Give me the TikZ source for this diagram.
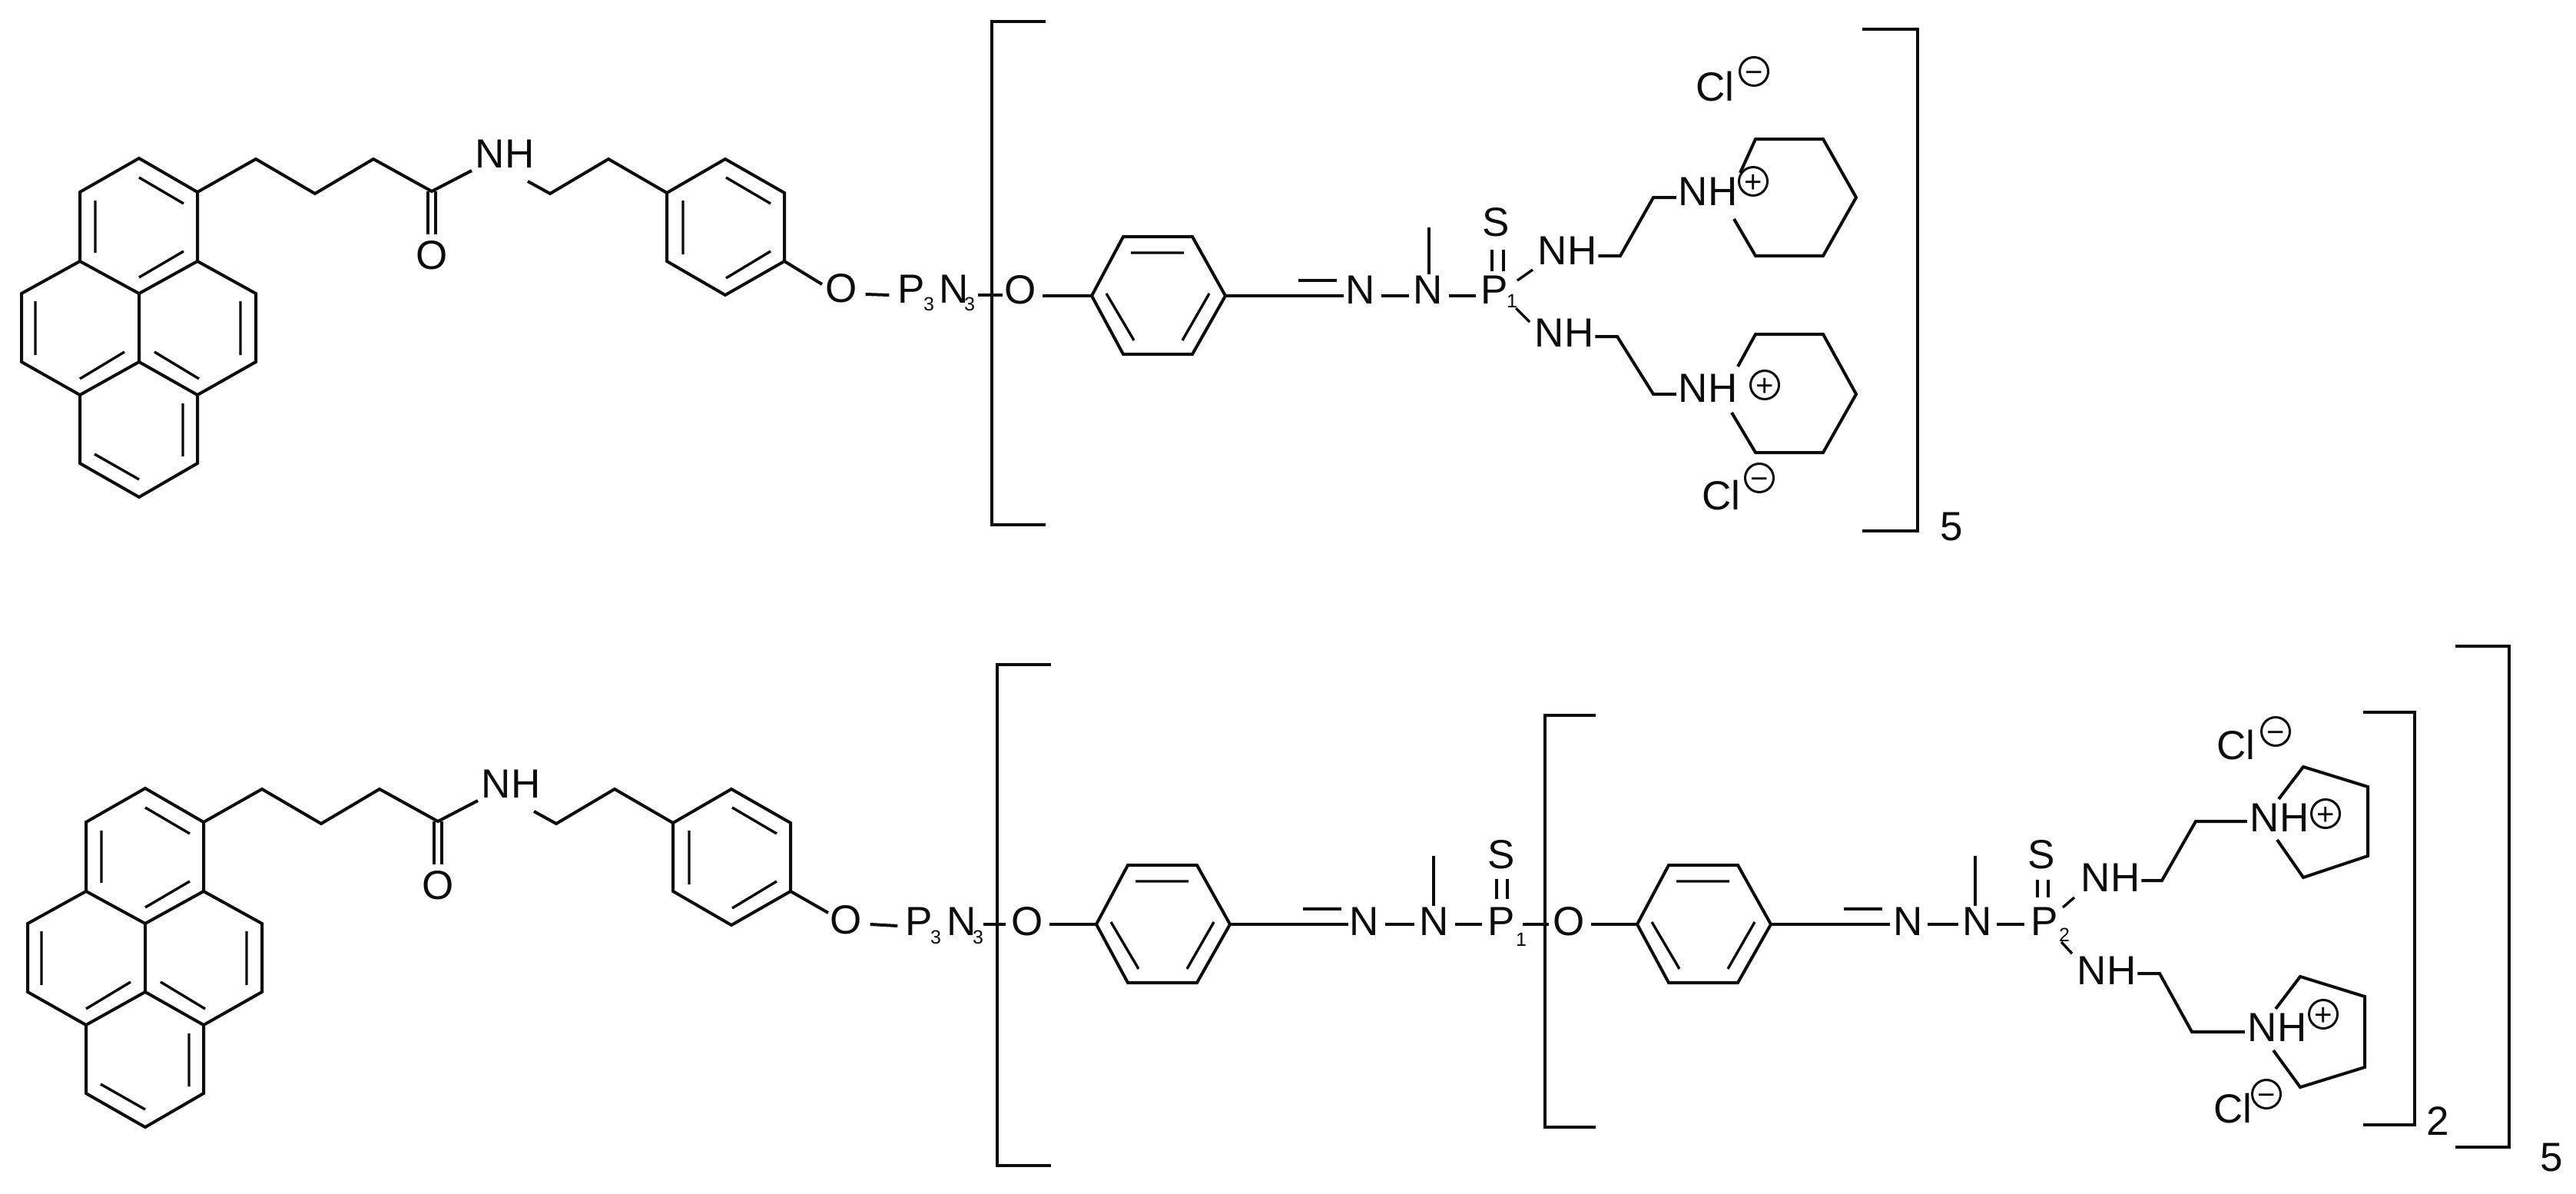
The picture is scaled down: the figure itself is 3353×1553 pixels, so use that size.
\documentclass[tikz,border=0pt]{standalone}
\usepackage{fontspec}
\setmainfont{Liberation Sans}
\definecolor{ink}{HTML}{0C0C0C}
\tikzset{
  bond/.style={line width=4pt,color=ink,line cap=butt,line join=miter},
  thin bond/.style={line width=3.4pt,color=ink},
  brack/.style={line width=4.2pt,color=ink,line join=miter},
  lab/.style={font=\fontsize{53}{60}\selectfont,text=ink,inner sep=0pt,outer sep=0pt,text height=38pt,text depth=0pt},
  subs/.style={font=\fontsize{25}{28}\selectfont,text=ink,inner sep=0pt,outer sep=0pt,text height=18pt,text depth=0pt},
  charge/.style={draw=ink,line width=3pt,circle,minimum size=37pt,inner sep=0pt,outer sep=0pt,text=ink,font=\fontsize{40}{40}\selectfont,text height=28pt,text depth=0pt},
}
% pyrene, butanamide chain and the phenylene ring
\newcommand{\pytail}{%
  \foreach \n/\x/\y in {a1/181/206,a2/257/250,a3/257/340,a4/181/382,a5/104/340,a6/104/250,a7/333/382,a8/333/471,a9/257/514,a10/181/471,a11/104/514,a12/28/471,a13/28/382,a14/257/603,a15/181/647,a16/104/603,c1/333/207,c2/410/252,c3/486/207,c4/562/249,nA/614/222,nB/687/236,c5/716/252,c6/792/207,p1/868/251,p2/944/207,p3/1021/251,p4/1021/340,p5/944/384,p6/868/340}
    {\coordinate (\n) at (\x,\y);}
  \node[lab] (nh) at (657,199) {NH};
  \node[lab] (oc) at (562,331) {O};
  \draw[bond] (a1)--(a2)--(a3)--(a4)--(a5)--(a6)--cycle;
  \draw[bond] (a3)--(a7)--(a8)--(a9)--(a10)--(a4);
  \draw[bond] (a10)--(a11)--(a12)--(a13)--(a5);
  \draw[bond] (a9)--(a14)--(a15)--(a16)--(a11);
  \draw[thin bond] (181,231)--(239,265) (124,261)--(124,329) (239,327)--(181,361) (46,392)--(46,462) (313,392)--(313,462) (162,458)--(104,493) (201,458)--(259,493) (238,525)--(238,594) (123,591)--(181,624);
  \draw[bond] (a2)--(c1)--(c2)--(c3)--(c4)--(nA);
  \draw[bond] (nB)--(c5)--(c6)--(p1);
  \draw[thin bond] ([xshift=-5pt]c4)--([xshift=-5pt,yshift=-56pt]c4);
  \draw[thin bond] ([xshift=5pt]c4)--([xshift=5pt,yshift=-56pt]c4);
  \draw[bond] (p1)--(p2)--(p3)--(p4)--(p5)--(p6)--cycle;
  \draw[thin bond] (945,231)--(1003,265) (889,261)--(889,331) (1003,327)--(945,362);
}
% aryl ring with the C=N stem; left vertex at the origin
\newcommand{\aryl}{%
  \foreach \n/\x/\y in {r1/0/0,r2/41/-77,r3/131/-77,r4/174/0,r5/131/76,r6/41/76,dA/269/-20,dB/319/-20}
    {\coordinate (\n) at (\x,\y);}
  \draw[bond] (r1)--(r2)--(r3)--(r4)--(r5)--(r6)--cycle;
  \draw[thin bond] (51,-56)--(120,-56) (19,-3)--(55,58) (153,-3)--(118,58);
  \draw[bond] (dA)--(dB);
}
\begin{document}
\begin{tikzpicture}[x=1pt,y=-1pt]
\path[use as bounding box,fill=white] (0,0) rectangle (3353,1553);

%% ---------- top molecule ----------
\begin{scope}[name prefix=t-]
  \pytail
\end{scope}
\node[lab] (tO0) at (1095,374) {O};
\node[lab] (tP0) at (1186,375) {P};
\node[subs] (tP0s) at (1209,395) {3};
\node[lab] (tN0) at (1242,375) {N};
\node[subs] (tN0s) at (1262,395) {3};
\coordinate (tlinkA) at (1273,384);
\coordinate (tlinkB) at (1305,384);
\coordinate (tbA) at (1070,370);
\draw[bond] (t-p4)--(tbA);
\draw[bond] ([xshift=11pt,yshift=-9pt]tO0.east)--([xshift=-11pt,yshift=-9pt]tP0.west);
\draw[bond] (tlinkA)--(tlinkB);
% brackets
\draw[brack] (1361,28)--(1291,28)--(1291,683)--(1361,683);
\draw[brack] (2424,38)--(2496,38)--(2496,691)--(2424,691);
\node[lab] (t5) at (2540,684) {5};
% arm
\node[lab] (tO1) at (1328,376) {O};
\begin{scope}[shift={(1421,385)},name prefix=ta-]\aryl\end{scope}
\node[lab] (tN1) at (1771,376) {N};
\node[lab] (tN2) at (1859,376) {N};
\node[lab] (tP1) at (1945,376) {P};
\node[lab] (tS) at (1947,288) {S};
\node[subs] (tP1s) at (1968,391) {1};
\coordinate (tMe) at (1860,296);
\draw[bond] ([xshift=8pt,yshift=-9pt]tO1.east)--(ta-r1);
\draw[bond] (ta-r4)--([xshift=-3pt,yshift=-9pt]tN1.west);
\draw[bond] ([xshift=8pt,yshift=-9pt]tN1.east)--([xshift=-6pt,yshift=-9pt]tN2.west);
\draw[bond] ([xshift=8pt,yshift=-9pt]tN2.east)--([xshift=-6pt,yshift=-9pt]tP1.west);
\draw[thin bond] (tMe |- tN2.north)--(tMe);
\draw[thin bond] (1942,325)--(1942,353) (1957,325)--(1957,353);
\node[lab] (tNHa) at (2040,325) {NH};
\node[lab] (tNHb) at (2036,432) {NH};
\coordinate (tPa) at (1975,365); \coordinate (tPb) at (1995,351);
\coordinate (tPc) at (1973,401); \coordinate (tPd) at (1991,419);
\draw[thin bond] (tPa)--(tPb);
\draw[thin bond] (tPc)--(tPd);
\node[lab] (tNHc) at (2223,248) {NH};
\node[lab] (tNHd) at (2223,504) {NH};
\node[charge] (tPlusA) at (2282,236) {+};
\node[charge] (tPlusB) at (2297,501) {+};
\foreach \n/\x/\y in {e1/2109/333,e2/2152/257,f1/2105/438,f2/2152/513,
  h0/2265/225,h1/2285/181,h2/2373/181,h3/2416/257,h4/2373/333,h5/2285/333,h6/2257/285,
  k0/2262/477,k1/2285/435,k2/2373/435,k3/2416/513,k4/2373/589,k5/2285/589,k6/2254/537}
  {\coordinate (t\n) at (\x,\y);}
\draw[bond] ([xshift=2pt,yshift=-8pt]tNHa.east)--(te1)--(te2)--([xshift=-3pt,yshift=-9pt]tNHc.west);
\draw[bond] ([xshift=2pt,yshift=-6pt]tNHb.east)--(tf1)--(tf2)--([xshift=-3pt,yshift=-9pt]tNHd.west);
\draw[bond] (th0)--(th1)--(th2)--(th3)--(th4)--(th5)--(th6);
\draw[bond] (tk0)--(tk1)--(tk2)--(tk3)--(tk4)--(tk5)--(tk6);
\node[lab] (tCla) at (2232,112) {Cl};
\node[lab] (tClb) at (2240,644) {Cl};
\node[charge] (tMinA) at (2283,93) {−};
\node[charge] (tMinB) at (2290,622) {−};

%% ---------- bottom molecule ----------
\begin{scope}[shift={(8,820)},name prefix=b-]
  \pytail
\end{scope}
\node[lab] (bO0) at (1101,1196) {O};
\node[lab] (bP0) at (1196,1198) {P};
\node[subs] (bP0s) at (1218,1219) {3};
\node[lab] (bN0) at (1252,1198) {N};
\node[subs] (bN0s) at (1273,1219) {3};
\coordinate (blinkA) at (1280,1203);
\coordinate (blinkB) at (1309,1203);
\coordinate (bbA) at (1078,1188);
\draw[bond] (b-p4)--(bbA);
\draw[bond] ([xshift=11pt,yshift=-7pt]bO0.east)--([xshift=-10pt,yshift=-7pt]bP0.west);
\draw[bond] (blinkA)--(blinkB);
% brackets
\draw[brack] (1368,865)--(1298,865)--(1298,1517)--(1368,1517);
\draw[brack] (2077,931)--(2011,931)--(2011,1467)--(2077,1467);
\draw[brack] (3076,927)--(3143,927)--(3143,1464)--(3076,1464);
\draw[brack] (3196,841)--(3266,841)--(3266,1493)--(3196,1493);
\node[lab] (b2) at (3173,1458) {2};
\node[lab] (b5) at (3321,1505) {5};
% first arm
\node[lab] (bO1) at (1337,1198) {O};
\begin{scope}[shift={(1427,1203)},name prefix=ba-]\aryl\end{scope}
\node[lab] (bN1) at (1776,1198) {N};
\node[lab] (bN2) at (1867,1198) {N};
\node[lab] (bP1) at (1954,1198) {P};
\node[lab] (bS1) at (1954,1111) {S};
\node[subs] (bP1s) at (1980,1222) {1};
\coordinate (bMe1) at (1866,1114);
\draw[bond] ([xshift=8pt,yshift=-5pt]bO1.east)--(ba-r1);
\draw[bond] (ba-r4)--([xshift=-2pt,yshift=-5pt]bN1.west);
\draw[bond] ([xshift=8pt,yshift=-5pt]bN1.east)--([xshift=-7pt,yshift=-5pt]bN2.west);
\draw[bond] ([xshift=8pt,yshift=-5pt]bN2.east)--([xshift=-7pt,yshift=-5pt]bP1.west);
\draw[thin bond] (bMe1 |- bN2.north)--(bMe1);
\draw[thin bond] (1948,1144)--(1948,1170) (1962,1144)--(1962,1170);
% second arm
\node[lab] (bO2) at (2042,1198) {O};
\begin{scope}[shift={(2131,1203)},name prefix=bb-]\aryl\end{scope}
\node[lab] (bN3) at (2484,1198) {N};
\node[lab] (bN4) at (2574,1198) {N};
\node[lab] (bP2) at (2661,1198) {P};
\node[lab] (bS2) at (2657,1111) {S};
\node[subs] (bP2s) at (2687,1216) {2};
\coordinate (bMe2) at (2571,1114);
\draw[bond] ([xshift=10pt,yshift=-5pt]bP1.east)--([xshift=-5pt,yshift=-5pt]bO2.west);
\draw[bond] ([xshift=8pt,yshift=-5pt]bO2.east)--(bb-r1);
\draw[bond] (bb-r4)--([xshift=-5pt,yshift=-5pt]bN3.west);
\draw[bond] ([xshift=6pt,yshift=-5pt]bN3.east)--([xshift=-6pt,yshift=-5pt]bN4.west);
\draw[bond] ([xshift=6pt,yshift=-5pt]bN4.east)--([xshift=-8pt,yshift=-5pt]bP2.west);
\draw[thin bond] (bMe2 |- bN4.north)--(bMe2);
\draw[thin bond] (2652,1145)--(2652,1168) (2666,1145)--(2666,1168);
\node[lab] (bNHa) at (2747,1141) {NH};
\node[lab] (bNHb) at (2742,1262) {NH};
\coordinate (bPa) at (2685,1181); \coordinate (bPb) at (2700,1168);
\coordinate (bPc) at (2683,1226); \coordinate (bPd) at (2697,1241);
\draw[thin bond] (bPa)--(bPb);
\draw[thin bond] (bPc)--(bPd);
\node[lab] (bNHc) at (2967,1063) {NH};
\node[lab] (bNHd) at (2964,1336) {NH};
\node[charge] (bPlusA) at (3027,1059) {+};
\node[charge] (bPlusB) at (3024,1320) {+};
\foreach \n/\x/\y in {e1/2814/1146,e2/2858/1069,f1/2811/1267,f2/2853/1343,
  h0/2966/1040,h1/2998/998,h2/3082/1024,h3/3082/1114,h4/2998/1142,h5/2964/1093,
  k0/2962/1313,k1/2994/1271,k2/3078/1297,k3/3078/1389,k4/2994/1415,k5/2959/1367}
  {\coordinate (b\n) at (\x,\y);}
\draw[bond] ([xshift=2pt,yshift=-5pt]bNHa.east)--(be1)--(be2)--([xshift=-4pt,yshift=-6pt]bNHc.west);
\draw[bond] ([xshift=2pt,yshift=-5pt]bNHb.east)--(bf1)--(bf2)--([xshift=-4pt,yshift=-7pt]bNHd.west);
\draw[bond] (bh0)--(bh1)--(bh2)--(bh3)--(bh4)--(bh5);
\draw[bond] (bk0)--(bk1)--(bk2)--(bk3)--(bk4)--(bk5);
\node[lab] (bCla) at (2910,969) {Cl};
\node[lab] (bClb) at (2906,1442) {Cl};
\node[charge] (bMinA) at (2962,952) {−};
\node[charge] (bMinB) at (2950,1424) {−};
\end{tikzpicture}
\end{document}
